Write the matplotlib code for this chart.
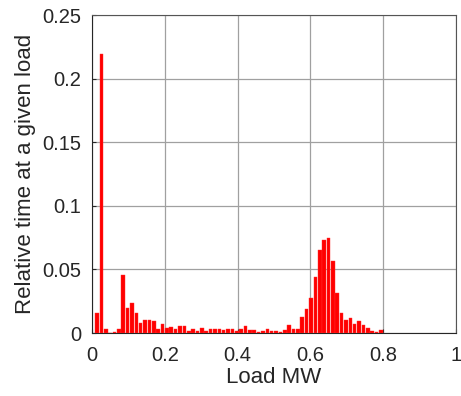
import numpy as np
import matplotlib
matplotlib.use("Agg")
import matplotlib.pyplot as plt

# histogram of load: bin width ~0.012 MW, first bin centre ~0.0137
bin_width = 0.012
first_centre = 0.0137
rel_time = [
    0.0155, 0.219, 0.0028, 0.0, 0.0010, 0.0030, 0.0455, 0.0195, 0.0235, 0.0155,
    0.0075, 0.0105, 0.0100, 0.0095, 0.0035, 0.0070, 0.0040, 0.0050, 0.0035, 0.0055,
    0.0055, 0.0015, 0.0035, 0.0015, 0.0040, 0.0015, 0.0030, 0.0035, 0.0030, 0.0020,
    0.0030, 0.0030, 0.0015, 0.0028, 0.0055, 0.0020, 0.0020, 0.0008, 0.0018, 0.0032,
    0.0018, 0.0018, 0.0008, 0.0020, 0.0060, 0.0035, 0.0035, 0.0125, 0.0190, 0.0275,
    0.0440, 0.0650, 0.0730, 0.0750, 0.0565, 0.0315, 0.0155, 0.0105, 0.0120, 0.0070,
    0.0098, 0.0062, 0.0038, 0.0014, 0.0010, 0.0020,
]
load_mw = first_centre + bin_width * np.arange(len(rel_time))

x_ticks = [0, 0.2, 0.4, 0.6, 0.8, 1]
x_labels = ["0", "0.2", "0.4", "0.6", "0.8", "1"]
y_ticks = [0, 0.05, 0.1, 0.15, 0.2, 0.25]
y_labels = ["0", "0.05", "0.1", "0.15", "0.2", "0.25"]

plt.rcParams["font.family"] = ["Liberation Sans", "DejaVu Sans"]
txt = "#262626"

fig = plt.figure(figsize=(4.61, 3.96), dpi=100)
ax = fig.add_axes([0.1996, 0.159, 0.7895, 0.803])

ax.bar(load_mw, rel_time, width=bin_width * 0.82, color="#ff0000",
       edgecolor="#ff3030", linewidth=0.3, zorder=3)

ax.set_xlim(0, 1)
ax.set_ylim(0, 0.25)
ax.set_xticks(x_ticks)
ax.set_xticklabels(x_labels)
ax.set_yticks(y_ticks)
ax.set_yticklabels(y_labels)
ax.grid(True, color="#a0a0a0", linewidth=0.9, zorder=0)
ax.set_axisbelow(True)
ax.tick_params(direction="in", length=3, width=0.8, colors=txt,
               labelsize=14.5, top=False, right=False)
ax.tick_params(axis="y", pad=8)
ax.tick_params(axis="x", pad=9)
for s in ax.spines.values():
    s.set_color("#555555")
    s.set_linewidth(0.8)
ax.spines["left"].set_color(txt)
ax.spines["bottom"].set_color(txt)

ax.set_xlabel("Load MW", fontsize=16, color=txt, labelpad=2)
ax.set_ylabel("Relative time at a given load", fontsize=16, color=txt, labelpad=4)

fig.savefig("out.png", dpi=100)
